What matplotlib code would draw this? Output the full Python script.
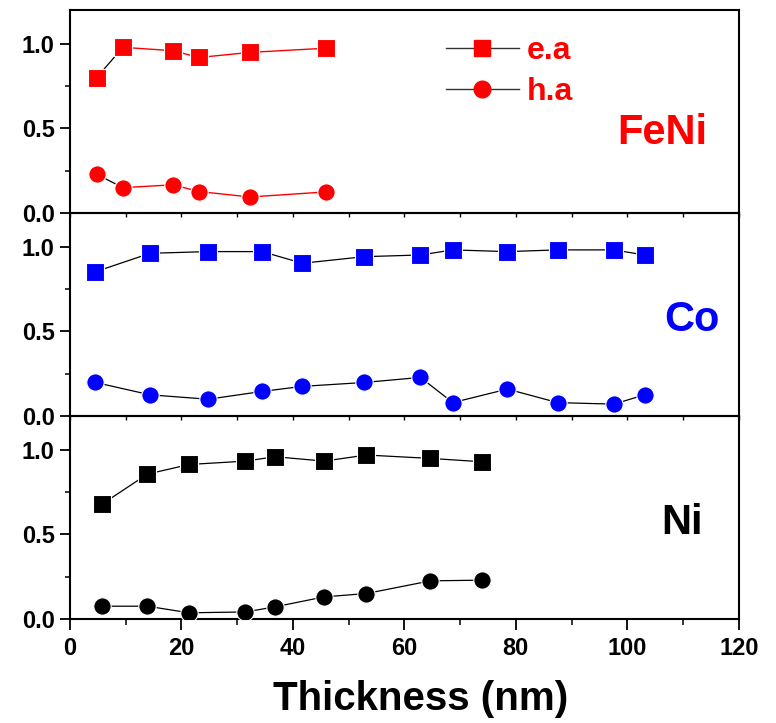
import matplotlib

matplotlib.use("Agg")
import matplotlib.pyplot as plt
from matplotlib.lines import Line2D
from matplotlib.ticker import MultipleLocator

plt.rcParams["font.family"] = ["Liberation Sans", "DejaVu Sans"]
plt.rcParams["font.weight"] = "bold"

# FeNi
feni_x = [4.8, 9.5, 18.5, 23.2, 32.3, 46.0]
feni_ea = [0.80, 0.98, 0.96, 0.92, 0.95, 0.975]
feni_ha = [0.23, 0.15, 0.167, 0.127, 0.095, 0.125]

# Co
co_x = [4.6, 14.4, 24.8, 34.5, 41.7, 52.8, 62.9, 68.7, 78.5, 87.5, 97.6, 103.1]
co_ea = [0.853, 0.962, 0.972, 0.972, 0.903, 0.942, 0.952, 0.982, 0.972, 0.982, 0.982, 0.952]
co_ha = [0.198, 0.125, 0.099, 0.145, 0.175, 0.198, 0.228, 0.079, 0.159, 0.079, 0.070, 0.125]

# Ni
ni_x = [5.8, 13.9, 21.4, 31.5, 36.8, 45.6, 53.2, 64.7, 74.0]
ni_ea = [0.679, 0.856, 0.913, 0.933, 0.959, 0.933, 0.969, 0.949, 0.929]
ni_ha = [0.075, 0.075, 0.036, 0.041, 0.071, 0.130, 0.150, 0.225, 0.229]

panel_names = ["FeNi", "Co", "Ni"]
panel_colors = ["#ff0000", "#0000ff", "#000000"]
name_positions = [(114.3, 0.476), (116.6, 0.565), (113.5, 0.566)]

figure, axes = plt.subplots(3, 1, figsize=(7.76, 7.23), dpi=100, sharex=True)
figure.subplots_adjust(left=0.090, right=0.952, top=0.986, bottom=0.144, hspace=0)

marker_style = {"markersize": 12.5, "markeredgewidth": 0.8, "markeredgecolor": "white"}

datasets = [(feni_x, feni_ea, feni_ha), (co_x, co_ea, co_ha), (ni_x, ni_ea, ni_ha)]
for axis, (xs, ea, ha), name, color, pos in zip(
    axes, datasets, panel_names, panel_colors, name_positions
):
    axis.set_facecolor("none")
    if name == "FeNi":
        # first segment is drawn black in the original
        axis.plot(xs[:2], ea[:2], color="black", lw=0.9, zorder=2)
        axis.plot(xs[:2], ha[:2], color="black", lw=0.9, zorder=2)
        axis.plot(xs[1:], ea[1:], color=color, lw=1.0, zorder=2)
        axis.plot(xs[1:], ha[1:], color=color, lw=1.0, zorder=2)
    else:
        axis.plot(xs, ea, color="black", lw=0.9, zorder=2)
        axis.plot(xs, ha, color="black", lw=0.9, zorder=2)
    axis.plot(xs, ea, ls="none", marker="s", color=color, zorder=3, **marker_style)
    axis.plot(xs, ha, ls="none", marker="o", color=color, zorder=3, **marker_style)

    axis.set_ylim(0, 1.2)
    axis.set_xlim(0, 120)
    axis.yaxis.set_minor_locator(MultipleLocator(0.25))
    axis.xaxis.set_major_locator(MultipleLocator(20))
    axis.xaxis.set_minor_locator(MultipleLocator(10))
    axis.set_yticks([0, 0.5, 1.0])
    axis.set_yticklabels(["0.0", "0.5", "1.0"])
    axis.tick_params(axis="y", which="major", direction="out", length=7, width=1.3,
                     labelsize=17, pad=4)
    axis.tick_params(axis="y", which="minor", direction="out", length=3.5, width=1.1)
    axis.tick_params(axis="x", which="both", direction="out", length=3, width=1.0)
    for spine in axis.spines.values():
        spine.set_linewidth(1.5)

    axis.text(pos[0], pos[1], name, color=color, fontsize=30, fontweight="bold",
              ha="right", va="center")

bottom = axes[2]
bottom.tick_params(axis="x", which="major", length=8, width=1.3, labelsize=17, pad=5)
bottom.tick_params(axis="x", which="minor", length=4, width=1.1)
bottom.set_xlabel("Thickness (nm)", fontsize=29, fontweight="bold")
bottom.xaxis.set_label_coords(0.525, -0.30)

handles = [
    Line2D([], [], color="#333333", lw=1.0, marker="s", markersize=12,
           markerfacecolor="#ff0000", markeredgecolor="#ff0000"),
    Line2D([], [], color="#333333", lw=1.0, marker="o", markersize=12,
           markerfacecolor="#ff0000", markeredgecolor="#ff0000"),
]
legend = axes[0].legend(handles, ["e.a", "h.a"], loc="upper left",
                        bbox_to_anchor=(0.519, 1.015), frameon=False, fontsize=23,
                        handlelength=2.3, handletextpad=0.25, labelspacing=0.36)
for text in legend.get_texts():
    text.set_color("#ff0000")
    text.set_fontweight("bold")

figure.savefig("out.png", dpi=100, facecolor="white")
plt.close(figure)
